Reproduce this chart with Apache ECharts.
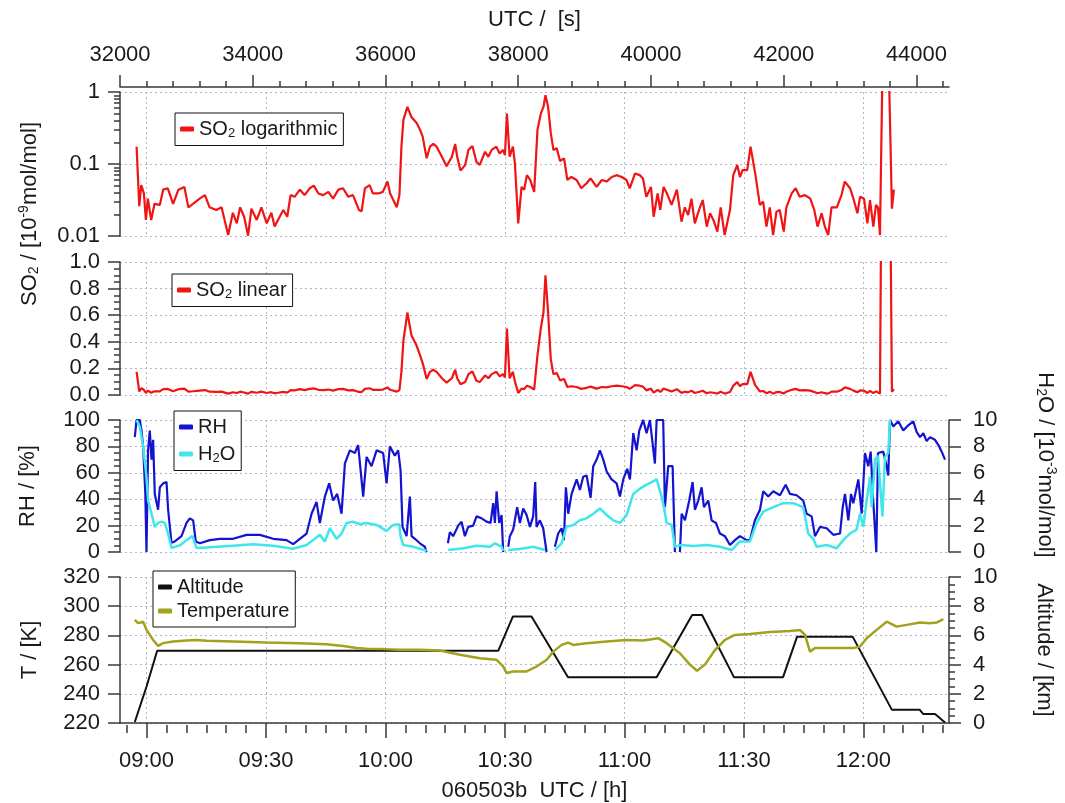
<!DOCTYPE html>
<html><head><meta charset="utf-8">
<script src="https://cdn.jsdelivr.net/npm/echarts@6/dist/echarts.min.js"></script>
<style>html,body{margin:0;padding:0;background:#fff}#c{width:1065px;height:803px}</style>
</head><body><div id="c"></div>
<script>
// ---------- data (UTC seconds, value) ----------
const so2Data = [[32250,0.174],[32290,0.026],[32320,0.051],[32360,0.039],[32390,0.0167],[32420,0.033],[32470,0.0167],[32520,0.028],[32600,0.027],[32650,0.044],
[32720,0.046],[32800,0.028],[32880,0.044],[32970,0.048],[33030,0.025],[33100,0.028],[33200,0.033],[33280,0.037],[33350,0.025],[33450,0.023],
[33530,0.025],[33630,0.0103],[33700,0.021],[33760,0.015],[33810,0.025],[33870,0.0185],[33930,0.0101],[33980,0.024],[34060,0.0167],[34130,0.025],
[34210,0.015],[34280,0.021],[34330,0.0135],[34380,0.0167],[34460,0.023],[34520,0.0185],[34570,0.037],[34630,0.035],[34710,0.044],[34780,0.037],
[34860,0.046],[34920,0.050],[34990,0.039],[35060,0.037],[35140,0.041],[35210,0.033],[35290,0.044],[35360,0.046],[35440,0.035],[35510,0.037],
[35600,0.023],[35640,0.022],[35690,0.046],[35760,0.051],[35810,0.039],[35890,0.039],[35960,0.041],[36030,0.057],[36070,0.039],[36170,0.025],
[36210,0.037],[36240,0.174],[36270,0.41],[36330,0.62],[36390,0.45],[36470,0.37],[36520,0.30],[36560,0.24],[36620,0.12],[36670,0.174],
[36720,0.19],[36770,0.174],[36850,0.126],[36920,0.093],[37000,0.126],[37050,0.19],[37080,0.126],[37130,0.081],[37200,0.097],[37250,0.157],
[37310,0.178],[37370,0.107],[37420,0.097],[37500,0.148],[37550,0.126],[37600,0.157],[37670,0.174],[37720,0.14],[37770,0.157],[37800,0.133],
[37830,0.50],[37870,0.126],[37920,0.174],[37950,0.102],[38000,0.015],[38050,0.048],[38090,0.044],[38130,0.07],[38180,0.06],[38240,0.041],
[38290,0.30],[38340,0.50],[38380,0.62],[38410,0.90],[38450,0.62],[38490,0.27],[38530,0.157],[38580,0.165],[38630,0.11],[38690,0.12],
[38740,0.06],[38800,0.066],[38880,0.06],[38950,0.046],[39030,0.054],[39090,0.063],[39180,0.048],[39260,0.06],[39330,0.057],[39410,0.066],
[39480,0.07],[39560,0.066],[39630,0.06],[39680,0.046],[39760,0.074],[39830,0.07],[39880,0.063],[39930,0.035],[40000,0.048],[40040,0.0185],
[40100,0.039],[40140,0.023],[40190,0.048],[40240,0.039],[40310,0.027],[40390,0.044],[40460,0.0158],[40510,0.025],[40560,0.0196],[40610,0.033],
[40660,0.015],[40730,0.024],[40780,0.0316],[40840,0.0135],[40890,0.0207],[40940,0.0167],[41000,0.0115],[41050,0.025],[41110,0.0103],[41190,0.023],
[41240,0.07],[41300,0.097],[41340,0.066],[41380,0.082],[41450,0.082],[41500,0.174],[41570,0.074],[41640,0.027],[41690,0.030],[41740,0.0135],
[41790,0.025],[41840,0.0103],[41890,0.0218],[41940,0.023],[42000,0.0115],[42040,0.025],[42120,0.039],[42180,0.046],[42240,0.035],[42320,0.037],
[42400,0.033],[42460,0.023],[42510,0.0135],[42570,0.0207],[42620,0.0135],[42670,0.0103],[42720,0.025],[42800,0.025],[42870,0.037],[42920,0.057],
[43000,0.046],[43050,0.033],[43110,0.0207],[43150,0.035],[43210,0.033],[43260,0.015],[43300,0.0316],[43350,0.0135],[43390,0.027],[43420,0.025],
[43450,0.0103],[43490,3],[43580,3],[43630,0.024],[43660,0.044]];

const rhData = [[32223,87],[32249,100],[32298,100],[32324,92],[32348,80],[32381,45],[32399,0],[32423,77],[32449,92],[32475,70],[32499,85],[32524,44],[32574,32],[32600,49],[32650,52],[32701,53],[32725,32],[32776,7],[32826,8],[32927,12],[33002,22],[33052,25.5],[33102,24],[33142,8],[33203,6.6],[33353,9],[33504,10],[33704,10],[33906,13],[34107,13],[34307,10],[34509,9],[34609,6],[34710,10],[34811,14],[34886,29],[34961,38],[35011,22],[35087,42],[35151,52],[35211,39],[35272,44],[35338,29],[35388,67],[35463,77],[35539,75],[35588,81],[35664,42],[35715,72],[35790,65],[35866,77],[35965,75],[36016,52],[36066,80],[36141,73],[36191,77],[36227,62],[36257,19],[36318,12],[36367,42],[36393,12],[36443,10],[36518,6.6],[36593,4],[36619,0],[36780,null],
[36940,6.6],[36970,15],[37020,12],[37095,20],[37146,23],[37196,12],[37246,19],[37321,20],[37372,27],[37448,25.5],[37523,23],[37583,22],[37623,37],[37648,22],[37674,46],[37713,22],[37749,28],[37773,0],[37810,null],
[37849,4],[37874,12],[37924,17],[37984,34],[38025,22],[38075,33],[38126,28],[38176,19],[38225,27],[38256,53],[38276,19],[38326,24],[38376,18],[38427,0],[38490,null],
[38552,4],[38602,14],[38653,18],[38688,9],[38718,49],[38753,29],[38804,44],[38880,55],[38929,47],[38979,57],[39030,58],[39090,41],[39130,65],[39181,70],[39231,77],[39281,70],[39332,61],[39407,55],[39482,52],[39532,42],[39582,55],[39642,63],[39683,55],[39733,90],[39784,77],[39823,92],[39883,100],[39934,90],[39984,100],[40059,67],[40085,100],[40184,100],[40210,34],[40260,65],[40326,65],[40361,0],[40400,null],
[40436,0],[40462,29],[40512,24],[40576,39],[40627,53],[40662,32],[40712,39],[40763,49],[40798,34],[40863,39],[40914,24],[40979,22],[41039,14],[41114,12],[41190,5.3],[41265,9],[41340,12],[41441,9],[41491,9],[41566,24],[41642,32],[41692,46],[41767,42],[41842,46],[41943,43],[42029,51],[42094,44],[42195,43],[42294,39],[42345,29],[42421,27],[42471,12],[42546,19],[42647,18],[42747,13],[42848,14],[42889,34],[42923,44],[42973,24],[43014,44],[43048,37],[43124,55],[43174,29],[43224,75],[43274,65],[43310,76],[43345,42],[43395,0],[43420,75],[43500,76],[43550,65],[43575,58],[43601,100],[43651,95],[43726,99],[43801,92],[43876,96],[43952,99],[44002,91],[44053,87],[44103,90],[44154,84],[44204,87],[44279,85],[44330,81],[44380,76],[44430,70]];

const h2oData = [[32249,10],[32298,9.5],[32348,8.0],[32399,5.7],[32423,3.9],[32475,2.9],[32524,1.9],[32574,2.2],[32625,2.3],[32675,2.2],[32725,1.4],[32776,0.3],[32800,0.4],[32901,0.5],[33002,0.9],[33093,1.2],[33153,0.3],[33304,0.35],[33704,0.48],[34006,0.58],[34307,0.48],[34609,0.25],[34811,0.53],[34910,0.9],[35011,1.3],[35087,0.8],[35162,1.8],[35263,1.0],[35338,1.4],[35413,2.2],[35513,2.3],[35614,2.1],[35715,2.2],[35866,2.05],[36016,1.6],[36116,2.05],[36206,2.1],[36227,1.2],[36266,0.53],[36417,0.4],[36619,0.1],[36780,null],
[36945,0.15],[37171,0.28],[37372,0.48],[37573,0.4],[37648,0.66],[37749,0.4],[37773,0.1],[37810,null],
[37849,0.15],[38025,0.23],[38225,0.4],[38402,0.15],[38490,null],
[38552,0.15],[38653,0.66],[38728,1.9],[38829,2.05],[38929,2.4],[39030,2.55],[39130,2.9],[39231,3.3],[39332,2.8],[39431,2.4],[39532,2.2],[39633,2.8],[39733,4.4],[39834,4.8],[39934,5.1],[40010,5.3],[40085,5.5],[40160,4.2],[40195,3.4],[40236,2.2],[40311,2.05],[40361,0.4],[40462,0.53],[40637,0.45],[40839,0.53],[41039,0.4],[41215,0.15],[41340,0.8],[41491,0.8],[41592,2.2],[41692,3.05],[41842,3.4],[41993,3.7],[42144,3.7],[42294,3.4],[42369,1.4],[42445,1.0],[42496,0.4],[42647,0.53],[42798,0.28],[42897,0.9],[42998,1.4],[43099,1.7],[43149,2.9],[43199,1.9],[43250,3.9],[43300,5.7],[43325,3.4],[43375,7.0],[43420,7.3],[43487,2.7],[43525,7.2],[43575,7.5],[43601,10]];

const altData = [[32223,0.07],[32298,1.1],[32400,2.5],[32560,4.95],[37700,4.95],[37920,7.3],[38200,7.3],[38750,3.14],[40085,3.14],[40620,7.4],[40770,7.4],[41250,3.14],[41990,3.14],[42200,5.9],[43040,5.9],[43630,0.9],[44050,0.9],[44100,0.62],[44280,0.62],[44430,0.04]];

const tempData = [[32223,290.6],[32273,288.4],[32298,287.2],[32348,289.4],[32400,283.8],[32499,276.9],[32574,272.8],[32650,274.7],[32800,275.8],[33002,276.5],[33153,276.9],[33304,276.3],[33704,275.8],[34208,275.1],[34710,274.7],[35112,274],[35362,272.8],[35564,271.3],[35715,270.8],[35965,270.6],[36216,270.1],[36518,270.1],[36819,269.6],[37121,266.7],[37422,264.4],[37674,263.3],[37773,258.7],[37825,254.2],[37924,255.3],[38126,255.3],[38277,258.7],[38428,263.3],[38527,268.9],[38654,273.5],[38753,275.1],[38828,273.5],[39030,274.7],[39331,275.8],[39633,276.9],[39883,276.5],[40109,278.1],[40236,274.7],[40436,267.8],[40587,260],[40693,255.8],[40813,260],[40964,270],[41115,276.9],[41266,280.3],[41492,281],[41793,282.4],[42094,283],[42245,283.7],[42320,280.3],[42396,268.9],[42471,271.3],[42848,271.3],[43048,271.3],[43149,272.4],[43250,278.1],[43400,283.8],[43551,289.4],[43702,286],[43853,287.2],[44053,288.8],[44204,288.4],[44304,288.8],[44404,291.1]];

// ---------- ticks ----------
const secLabels = [32000,34000,36000,38000,40000,42000,44000];
const hourLabels = [32400,34200,36000,37800,39600,41400,43200];
const secMinor = []; for (let v = 32000; v <= 44400; v += 400) secMinor.push(v);
const hourMinor = []; for (let v = 32100; v <= 44400; v += 300) hourMinor.push(v);

// ---------- style ----------
const FONT = '"Liberation Sans", Arial, sans-serif';
const TXT = '#1a1a1a';
const AXC = '#3a3a3a';
const GRIDC = '#b4b4d2';
const X_MIN = 32000, X_MAX = 44490;
const axLine = {color: AXC, width: 1.5};
const lab = {fontSize: 22, fontFamily: FONT, color: TXT};
const dotted = {show: true, lineStyle: {type: [2, 3], color: GRIDC, width: 1}};
const richLegend = {
  a: {fontSize: 20, fontFamily: FONT, color: TXT},
  sub: {fontSize: 13, fontFamily: FONT, color: TXT, padding: [8, 0, 0, 0]}
};
const richTitle = {
  a: {fontSize: 22, fontFamily: FONT, color: TXT},
  sub: {fontSize: 14, fontFamily: FONT, color: TXT, padding: [9, 0, 0, 0]},
  sup: {fontSize: 14, fontFamily: FONT, color: TXT, padding: [0, 0, 11, 0]}
};
function fmtHM(v) {
  const h = Math.floor(v / 3600), m = Math.round((v - h * 3600) / 60);
  return String(h).padStart(2, '0') + ':' + String(m).padStart(2, '0');
}
function richName(n) {
  if (n.indexOf('SO2') === 0) return '{a|SO}{sub|2}{a|' + n.slice(3) + '}';
  if (n === 'H2O') return '{a|H}{sub|2}{a|O}';
  return '{a|' + n + '}';
}
function gridX(g) {
  return {gridIndex: g, type: 'value', min: X_MIN, max: X_MAX, position: 'bottom',
    axisLine: {show: false}, axisTick: {show: false, customValues: hourLabels},
    axisLabel: {show: false}, splitLine: dotted};
}

const legendCommon = {
  borderColor: '#111', borderWidth: 1, padding: [6, 6, 6, 5], itemWidth: 14, itemHeight: 5,
  icon: 'roundRect', selectedMode: false, backgroundColor: '#fff',
  formatter: richName,
  textStyle: {fontSize: 20, fontFamily: FONT, color: TXT, rich: richLegend}
};

const option = {
  animation: false,
  backgroundColor: '#fff',
  grid: [
    {left: 120, right: 116, top: 92, height: 144},
    {left: 120, right: 116, top: 262, height: 133},
    {left: 120, right: 116, top: 420, height: 132},
    {left: 120, right: 116, top: 577, height: 146}
  ],
  xAxis: [
    {gridIndex: 0, type: 'value', min: X_MIN, max: X_MAX, position: 'top', offset: 5,
      axisLine: {show: true, lineStyle: axLine},
      axisTick: {show: true, customValues: secLabels, length: 12, lineStyle: axLine},
      axisLabel: Object.assign({show: true, customValues: secLabels, margin: 21, formatter: v => String(Math.round(v))}, lab),
      splitLine: {show: false},
      name: 'UTC /  [s]', nameLocation: 'middle', nameGap: 56, nameTextStyle: lab},
    {gridIndex: 0, type: 'value', min: X_MIN, max: X_MAX, position: 'top', offset: 5,
      axisLine: {show: false},
      axisTick: {show: true, customValues: secMinor, length: 6, lineStyle: axLine},
      axisLabel: {show: false}, splitLine: {show: false}},
    gridX(0), gridX(1), gridX(2),
    {gridIndex: 3, type: 'value', min: X_MIN, max: X_MAX, position: 'bottom', offset: 2,
      axisLine: {show: true, lineStyle: axLine},
      axisTick: {show: true, customValues: hourLabels, length: 15, lineStyle: axLine},
      axisLabel: Object.assign({show: true, customValues: hourLabels, formatter: fmtHM, margin: 25}, lab),
      splitLine: dotted,
      name: '060503b  UTC / [h]', nameLocation: 'middle', nameGap: 55, nameTextStyle: lab},
    {gridIndex: 3, type: 'value', min: X_MIN, max: X_MAX, position: 'bottom', offset: 2,
      axisLine: {show: false},
      axisTick: {show: true, customValues: hourMinor, length: 8, lineStyle: axLine},
      axisLabel: {show: false}, splitLine: {show: false}}
  ],
  yAxis: [
    {gridIndex: 0, type: 'log', logBase: 10, min: 0.01, max: 1, position: 'left',
      axisLine: {show: true, lineStyle: axLine},
      axisTick: {show: true, length: 12, lineStyle: axLine},
      minorTick: {show: true, splitNumber: 9, length: 6, lineStyle: axLine},
      axisLabel: Object.assign({margin: 20, formatter: v => String(+Number(v).toPrecision(2))}, lab),
      splitLine: dotted},
    {gridIndex: 1, type: 'value', min: 0, max: 1, interval: 0.2, position: 'left',
      axisLine: {show: true, lineStyle: axLine},
      axisTick: {show: true, length: 12, lineStyle: axLine},
      minorTick: {show: true, splitNumber: 4, length: 6, lineStyle: axLine},
      axisLabel: Object.assign({margin: 20, formatter: v => v.toFixed(1)}, lab),
      splitLine: dotted},
    {gridIndex: 2, type: 'value', min: 0, max: 100, interval: 20, position: 'left',
      axisLine: {show: true, lineStyle: axLine},
      axisTick: {show: true, length: 12, lineStyle: axLine},
      minorTick: {show: true, splitNumber: 4, length: 6, lineStyle: axLine},
      axisLabel: Object.assign({margin: 20}, lab),
      splitLine: dotted,
      name: 'RH / [%]', nameLocation: 'middle', nameRotate: 90, nameGap: 81, nameTextStyle: lab},
    {gridIndex: 2, type: 'value', min: 0, max: 10, interval: 2, position: 'right',
      axisLine: {show: true, lineStyle: axLine},
      axisTick: {show: true, length: 12, lineStyle: axLine},
      axisLabel: Object.assign({margin: 24}, lab),
      splitLine: {show: false}},
    {gridIndex: 3, type: 'value', min: 220, max: 320, interval: 20, position: 'left',
      axisLine: {show: true, lineStyle: axLine},
      axisTick: {show: true, length: 12, lineStyle: axLine},
      axisLabel: Object.assign({margin: 20}, lab),
      splitLine: dotted,
      name: 'T / [K]', nameLocation: 'middle', nameRotate: 90, nameGap: 79, nameTextStyle: lab},
    {gridIndex: 3, type: 'value', min: 0, max: 10, interval: 2, position: 'right',
      axisLine: {show: true, lineStyle: axLine},
      axisTick: {show: true, length: 12, lineStyle: axLine},
      minorTick: {show: true, splitNumber: 4, length: 6, lineStyle: axLine},
      axisLabel: Object.assign({margin: 24}, lab),
      splitLine: {show: false},
      name: 'Altitude / [km]', nameLocation: 'middle', nameRotate: -90, nameGap: 84, nameTextStyle: lab}
  ],
  legend: [
    Object.assign({data: ['SO2 logarithmic'], left: 175, top: 113}, legendCommon),
    Object.assign({data: ['SO2 linear'], left: 172, top: 274}, legendCommon),
    Object.assign({data: ['RH', 'H2O'], left: 174, top: 411, orient: 'vertical', itemGap: 7}, legendCommon),
    Object.assign({data: ['Altitude', 'Temperature'], left: 153, top: 571, orient: 'vertical', itemGap: 4}, legendCommon)
  ],
  graphic: [
    {type: 'text', x: 30, y: 214, rotation: Math.PI / 2,
      style: {text: '{a|SO}{sub|2}{a| / [10}{sup|-9}{a|mol/mol]}', rich: richTitle, fill: TXT,
        font: '22px ' + FONT, align: 'center', verticalAlign: 'middle', textAlign: 'center', textVerticalAlign: 'middle'}},
    {type: 'text', x: 1045, y: 465, rotation: -Math.PI / 2,
      style: {text: '{a|H}{sub|2}{a|O / [10}{sup|-3}{a|mol/mol]}', rich: richTitle, fill: TXT,
        font: '22px ' + FONT, align: 'center', verticalAlign: 'middle', textAlign: 'center', textVerticalAlign: 'middle'}}
  ],
  series: [
    {name: 'SO2 logarithmic', type: 'line', xAxisIndex: 0, yAxisIndex: 0, data: so2Data,
      showSymbol: false, symbol: 'none', color: '#f01414', lineStyle: {width: 2.2}, clip: true},
    {name: 'SO2 linear', type: 'line', xAxisIndex: 3, yAxisIndex: 1, data: so2Data,
      showSymbol: false, symbol: 'none', color: '#f01414', lineStyle: {width: 2.2}, clip: true},
    {name: 'RH', type: 'line', xAxisIndex: 4, yAxisIndex: 2, data: rhData, connectNulls: false,
      showSymbol: false, symbol: 'none', color: '#1414d0', lineStyle: {width: 2.2}, clip: true},
    {name: 'H2O', type: 'line', xAxisIndex: 4, yAxisIndex: 3, data: h2oData, connectNulls: false,
      showSymbol: false, symbol: 'none', color: '#3fe6ea', lineStyle: {width: 2.5}, clip: true},
    {name: 'Altitude', type: 'line', xAxisIndex: 5, yAxisIndex: 5, data: altData,
      showSymbol: false, symbol: 'none', color: '#111111', lineStyle: {width: 2}, clip: true},
    {name: 'Temperature', type: 'line', xAxisIndex: 5, yAxisIndex: 4, data: tempData,
      showSymbol: false, symbol: 'none', color: '#a2a21e', lineStyle: {width: 2.5}, clip: true}
  ]
};

const chart = echarts.init(document.getElementById('c'), null, {renderer: 'canvas'});
chart.setOption(option);
</script>
</body></html>
